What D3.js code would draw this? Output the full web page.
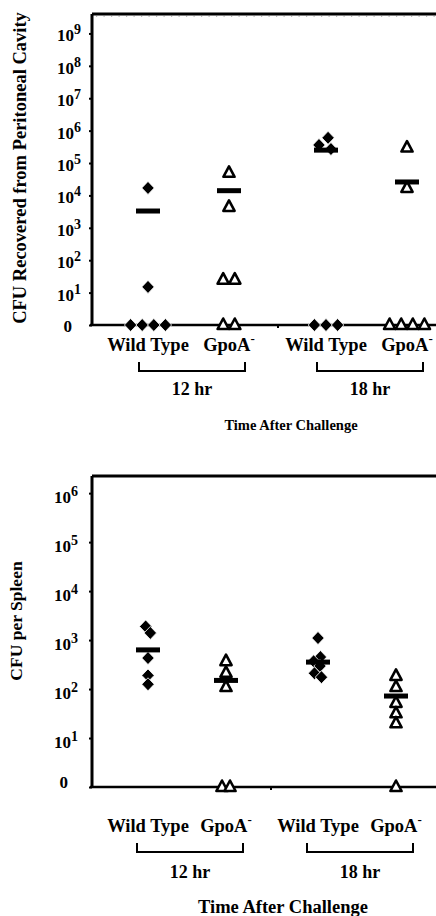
<!DOCTYPE html>
<html>
<head>
<meta charset="utf-8">
<script src="https://cdn.jsdelivr.net/npm/d3@7"></script>
<style>
  body { margin: 0; background: #fff; }
  text { font-family: "Liberation Serif", "Times New Roman", serif; font-weight: bold; fill: #000; }
</style>
</head>
<body>
<svg id="fig" width="436" height="916"></svg>
<script>
const timePoints = ["12 hr", "18 hr"];
const strains = ["Wild Type", "GpoA"];

// CFU recovered from peritoneal cavity (0 = nothing recovered)
const periWild12 = [17000, 15, 0, 0, 0, 0];
const periGpoA12 = [50000, 4400, 25, 25, 0, 0];
const periWild18 = [600000, 360000, 270000, 0, 0, 0];
const periGpoA18 = [300000, 17000, 0, 0, 0, 0];
const periMeans = [3300, 14000, 250000, 26000];
const periExponents = [0, 1, 2, 3, 4, 5, 6, 7, 8, 9];

// CFU per spleen
const splWild12 = [1900, 1400, 430, 190, 125];
const splGpoA12 = [370, 215, 110, 0, 0];
const splWild18 = [1100, 450, 370, 295, 210, 175];
const splGpoA18 = [185, 110, 52, 32, 20, 0];
const splMeans = [630, 150, 355, 72];
const splExponents = [0, 1, 2, 3, 4, 5, 6];

const svg = d3.select("#fig");
svg.append("rect").attr("width", 436).attr("height", 916).attr("fill", "#fff");

function drawPanel(cfg) {
  const g = svg.append("g");
  const y = d3.scaleLog().domain([1, cfg.yMax]).range([cfg.bottom, cfg.top]);
  const yv = v => y(Math.max(v, 1)); // zero plotted on the baseline
  const xTime = d3.scaleBand().domain(timePoints).range(cfg.timeRange);
  const xStrain = d3.scalePoint().domain(strains).range(cfg.strainRange);
  const cx = (t, s) => xTime(t) + xTime.bandwidth() / 2 + xStrain(s);

  const rows = [];
  timePoints.forEach((t, i) => strains.forEach((s, j) => {
    rows.push({ time: t, strain: s, values: cfg.series[i * 2 + j], mean: cfg.means[i * 2 + j] });
  }));

  // spread overlapping points sideways
  const nodes = [];
  rows.forEach(r => r.values.forEach(v => {
    const x0 = cx(r.time, r.strain);
    nodes.push({ strain: r.strain, cx: x0, x: x0, y: yv(v), fy: yv(v) });
  }));
  const sim = d3.forceSimulation(nodes)
    .force("x", d3.forceX(d => d.cx).strength(0.06))
    .force("collide", d3.forceCollide(cfg.dodge))
    .stop();
  for (let i = 0; i < 300; i++) sim.tick();

  // frame
  g.append("line").attr("x1", cfg.left).attr("x2", 436).attr("y1", cfg.top).attr("y2", cfg.top)
    .attr("stroke", "#000").attr("stroke-width", 3);
  if (cfg.borderTicks) {
    g.append("line").attr("x1", cfg.left + 4).attr("x2", 436).attr("y1", cfg.top + 2).attr("y2", cfg.top + 2)
      .attr("stroke", "#777").attr("stroke-width", 1.2).attr("stroke-dasharray", "1.2 6.3");
  }
  g.append("line").attr("x1", cfg.left).attr("x2", cfg.left).attr("y1", cfg.top).attr("y2", cfg.bottom)
    .attr("stroke", "#000").attr("stroke-width", 3);
  g.append("line").attr("x1", cfg.left - 2).attr("x2", 436).attr("y1", cfg.bottom).attr("y2", cfg.bottom)
    .attr("stroke", "#000").attr("stroke-width", 2.5);
  g.append("line").attr("x1", xTime("18 hr")).attr("x2", xTime("18 hr"))
    .attr("y1", cfg.bottom).attr("y2", cfg.bottom + 3).attr("stroke", "#000").attr("stroke-width", 2);

  // y ticks and labels
  const yAxis = g.append("g").attr("transform", `translate(${cfg.left},0)`)
    .call(d3.axisLeft(y).tickValues(cfg.exponents.map(e => Math.pow(10, e))).tickSize(3).tickFormat(""));
  yAxis.select(".domain").remove();
  yAxis.selectAll("line").attr("stroke-width", 2);

  const labels = g.selectAll("text.ylab").data(cfg.exponents).enter().append("text")
    .attr("class", "ylab")
    .attr("text-anchor", "end")
    .attr("font-size", 17)
    .attr("x", e => e === 0 ? cfg.zeroX : cfg.labelX)
    .attr("y", e => y(Math.pow(10, e)) + (e === 0 ? cfg.zeroDy : cfg.labelDy));
  labels.append("tspan").text(e => e === 0 ? "0" : "10");
  labels.filter(e => e > 0).append("tspan").attr("dy", -7).attr("font-size", 14).text(e => e);

  // points
  const pts = g.selectAll("path.pt").data(nodes).enter().append("path")
    .attr("class", "pt")
    .attr("transform", d => `translate(${d.x},${d.y})`);
  pts.filter(d => d.strain === "Wild Type")
    .attr("d", "M0,-6.5L6.2,0L0,6.5L-6.2,0Z")
    .attr("fill", "#000").attr("stroke", "#fff").attr("stroke-width", 0.8);
  pts.filter(d => d.strain === "GpoA")
    .attr("d", "M0,-6.5L5.6,4L-5.6,4Z")
    .attr("fill", "#fff").attr("stroke", "#000").attr("stroke-width", 2.6).attr("stroke-linejoin", "round");

  // mean bars
  g.selectAll("rect.mean").data(rows).enter().append("rect")
    .attr("class", "mean")
    .attr("x", d => cx(d.time, d.strain) - 12)
    .attr("y", d => yv(d.mean) - 2.5)
    .attr("width", 24).attr("height", 5).attr("fill", "#000");

  // category labels
  const cat = g.selectAll("text.cat").data(rows).enter().append("text")
    .attr("class", "cat")
    .attr("text-anchor", "middle")
    .attr("font-size", 18.5)
    .attr("x", d => cx(d.time, d.strain))
    .attr("y", cfg.catY);
  cat.append("tspan").text(d => d.strain);
  cat.filter(d => d.strain === "GpoA").append("tspan").attr("dy", -8).attr("font-size", 13).text("-");

  // time brackets
  timePoints.forEach(t => {
    const mid = xTime(t) + xTime.bandwidth() / 2 + cfg.bracketShift;
    g.append("path")
      .attr("d", `M${mid - 53},${cfg.bracketTop}V${cfg.bracketTop + 9}H${mid + 53}V${cfg.bracketTop}`)
      .attr("fill", "none").attr("stroke", "#000").attr("stroke-width", 2);
    g.append("text").attr("text-anchor", "middle").attr("font-size", 18)
      .attr("x", mid).attr("y", cfg.timeY).text(t);
  });

  g.append("text").attr("text-anchor", "middle").attr("font-size", cfg.titleSize)
    .attr("x", cfg.titleX).attr("y", cfg.titleY).text("Time After Challenge");

  g.append("text").attr("text-anchor", "middle").attr("font-size", cfg.yTitleSize)
    .attr("transform", `translate(${cfg.yTitleX},${cfg.yTitleY}) rotate(-90)`)
    .text(cfg.yTitle);
}

drawPanel({
  series: [periWild12, periGpoA12, periWild18, periGpoA18],
  means: periMeans,
  exponents: periExponents,
  yMax: Math.pow(10, 9.6),
  left: 92, top: 14, bottom: 325,
  timeRange: [100, 456], strainRange: [-41, 40],
  dodge: 5.8, borderTicks: true,
  labelX: 81, labelDy: 8, zeroX: 72, zeroDy: 7,
  catY: 351, bracketTop: 362, bracketShift: 3, timeY: 395,
  titleX: 291, titleY: 430, titleSize: 14.5,
  yTitle: "CFU Recovered from Peritoneal Cavity", yTitleX: 26, yTitleY: 168, yTitleSize: 18.5
});

drawPanel({
  series: [splWild12, splGpoA12, splWild18, splGpoA18],
  means: splMeans,
  exponents: splExponents,
  yMax: Math.pow(10, 6.35),
  left: 92, top: 476, bottom: 787,
  timeRange: [101, 441], strainRange: [-38, 40],
  dodge: 4, borderTicks: false,
  labelX: 78, labelDy: 10, zeroX: 68, zeroDy: 1,
  catY: 832, bracketTop: 843, bracketShift: 4, timeY: 878,
  titleX: 283, titleY: 913, titleSize: 18.5,
  yTitle: "CFU per Spleen", yTitleX: 22, yTitleY: 621, yTitleSize: 17.5
});
</script>
</body>
</html>
